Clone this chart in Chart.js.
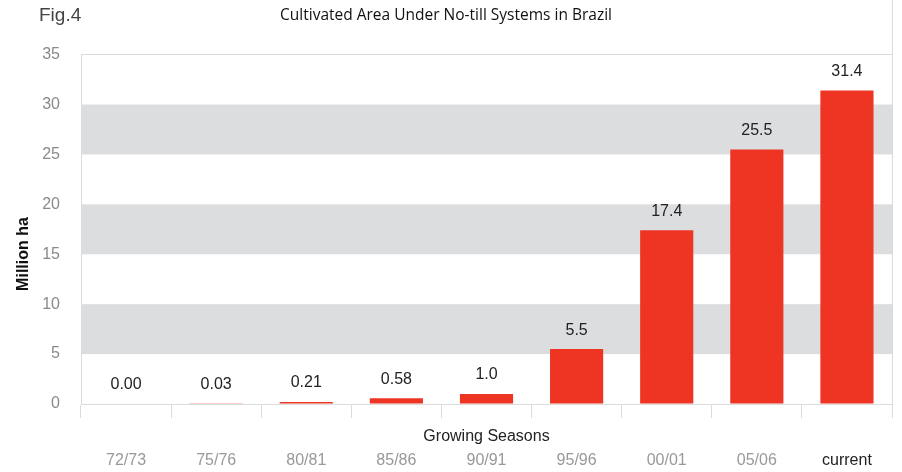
<!DOCTYPE html>
<html>
<head>
<meta charset="utf-8">
<script src="https://cdn.jsdelivr.net/npm/chart.js@4"></script>
<style>
  html, body { margin: 0; padding: 0; background: #fff; }
  #wrap { width: 902px; height: 472px; position: relative; }
</style>
</head>
<body>
<div id="wrap"><canvas id="chart"></canvas></div>
<script>
const seasons = ['72/73', '75/76', '80/81', '85/86', '90/91', '95/96', '00/01', '05/06', 'current'];
const areaMillionHa = [0.00, 0.03, 0.21, 0.58, 1.0, 5.5, 17.4, 25.5, 31.4];
const areaLabels = ['0.00', '0.03', '0.21', '0.58', '1.0', '5.5', '17.4', '25.5', '31.4'];
const yTicks = [0, 5, 10, 15, 20, 25, 30, 35];

const numFont = '"Liberation Sans", Arial, sans-serif';
const gridGray = '#dcdcdc';

// grey bands on every other interval (5-10, 15-20, 25-30), labels and extra text
const decor = {
  id: 'decor',
  beforeDatasetsDraw(chart) {
    const { ctx, chartArea: a, scales: { y } } = chart;
    ctx.save();
    ctx.fillStyle = '#dcdddf';
    for (let i = 1; i < yTicks.length - 1; i += 2) {
      const top = y.getPixelForValue(yTicks[i + 1]);
      const bot = y.getPixelForValue(yTicks[i]);
      ctx.fillRect(a.left, top, a.right - a.left, bot - top);
    }
    ctx.restore();
  },
  afterDraw(chart) {
    const { ctx, chartArea: a } = chart;
    const meta = chart.getDatasetMeta(0);
    ctx.save();
    // value labels above bars
    ctx.font = '16px ' + numFont;
    ctx.fillStyle = '#222';
    ctx.textAlign = 'center';
    ctx.textBaseline = 'bottom';
    meta.data.forEach((bar, i) => {
      ctx.fillText(areaLabels[i], bar.x, bar.y - 11);
    });
    // right frame line
    ctx.strokeStyle = gridGray;
    ctx.lineWidth = 1;
    ctx.beginPath();
    ctx.moveTo(Math.round(a.right) + 0.5, 0);
    ctx.lineTo(Math.round(a.right) + 0.5, a.bottom + 14);
    ctx.stroke();
    // figure number
    ctx.textAlign = 'left';
    ctx.textBaseline = 'middle';
    ctx.fillStyle = '#444';
    ctx.font = '19px ' + numFont;
    ctx.fillText('Fig.4', 39, 16);
    // x axis title sits between axis and tick labels
    ctx.textAlign = 'center';
    ctx.fillStyle = '#222';
    ctx.font = '16px ' + numFont;
    ctx.fillText('Growing Seasons', (a.left + a.right) / 2, 437);
    // y axis title
    ctx.translate(24, 254);
    ctx.rotate(-Math.PI / 2);
    ctx.font = 'bold 16px ' + numFont;
    ctx.fillStyle = '#111';
    ctx.fillText('Million ha', 0, 0);
    ctx.restore();
  }
};

new Chart(document.getElementById('chart'), {
  type: 'bar',
  data: {
    labels: seasons,
    datasets: [{
      data: areaMillionHa,
      backgroundColor: '#ee3524',
      borderWidth: 0,
      barPercentage: 0.59,
      categoryPercentage: 1
    }]
  },
  options: {
    responsive: true,
    maintainAspectRatio: false,
    animation: false,
    layout: { padding: { left: 0, right: 10, top: 0, bottom: 0 } },
    plugins: {
      legend: { display: false },
      tooltip: { enabled: false },
      title: {
        display: true,
        text: 'Cultivated Area Under No-till Systems in Brazil',
        color: '#111',
        font: { family: '"Open Sans", sans-serif', size: 15.5, weight: 'normal' },
        padding: { top: 6, bottom: 30 }
      }
    },
    scales: {
      x: {
        grid: {
          offset: true,
          drawOnChartArea: false,
          tickLength: 14,
          color: gridGray
        },
        border: { color: gridGray },
        ticks: {
          padding: 33,
          font: { family: numFont, size: 16 },
          color: ctx => ctx.index === seasons.length - 1 ? '#222' : '#999'
        },
        afterFit: s => {
          s.height = 68;
          s.paddingLeft = 0;
          s.paddingRight = 0;
        }
      },
      y: {
        min: 0,
        max: 35,
        afterBuildTicks: s => { s.ticks = yTicks.map(v => ({ value: v })); },
        grid: {
          drawTicks: false,
          color: ctx => ctx.tick && ctx.tick.value === 35 ? gridGray : 'transparent'
        },
        border: { color: gridGray },
        ticks: {
          padding: 21,
          font: { family: numFont, size: 16 },
          color: '#8a8a8a'
        },
        afterFit: s => { s.width = 81; }
      }
    }
  },
  plugins: [decor]
});
</script>
</body>
</html>
